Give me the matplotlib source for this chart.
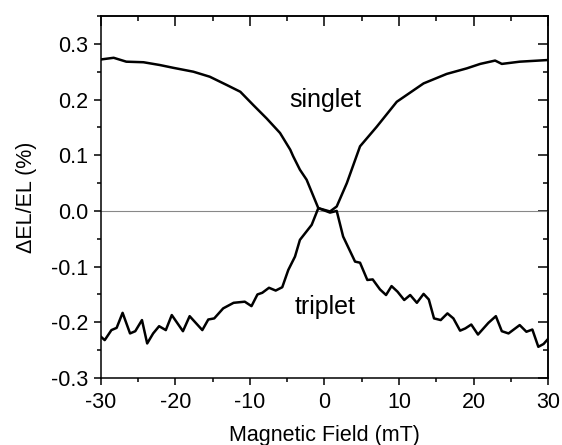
import numpy as np
import matplotlib.pyplot as plt
from matplotlib.ticker import MultipleLocator

plt.rcParams['font.family'] = ['Liberation Sans', 'DejaVu Sans']

# singlet branch: field (mT) and dEL/EL (%)
singlet_x = [-30.0, -28.3, -26.6, -24.3, -22.1, -20.3, -17.6, -15.4, -13.1, -11.3,
             -9.55, -7.76, -5.97, -4.6, -4.2, -3.3, -2.4, -0.83, 0.74, 1.64,
             3.0, 4.77, 7.0, 9.7, 13.3, 16.4, 19.1, 20.9, 22.9, 23.8, 26.2, 30.0]
singlet_y = [0.272, 0.275, 0.268, 0.267, 0.262, 0.257, 0.250, 0.241, 0.226, 0.214,
             0.190, 0.166, 0.140, 0.110, 0.098, 0.074, 0.056, 0.005, -0.001, 0.008,
             0.050, 0.116, 0.151, 0.196, 0.229, 0.246, 0.256, 0.264, 0.270, 0.264, 0.268, 0.271]

# triplet branch
triplet_x = [-30.0, -29.5, -28.6, -27.9, -27.1, -26.1, -25.4, -24.5, -23.8, -23.0,
             -22.2, -21.3, -20.5, -19.0, -18.1, -16.4, -15.6, -14.8, -13.6, -12.2,
             -10.7, -9.8, -9.0, -8.35, -7.45, -6.55, -5.67, -4.86, -3.96, -3.3,
             -1.72, -0.83, 0.74, 1.64, 2.5, 4.1, 4.77, 5.75, 6.47, 7.45,
             8.26, 9.0, 9.8, 10.7, 11.5, 12.4, 13.3, 14.0, 14.7, 15.6,
             16.5, 17.3, 18.2, 18.9, 19.7, 20.6, 22.0, 23.0, 23.8, 24.7,
             26.2, 27.1, 27.9, 28.7, 29.4, 30.0]
triplet_y = [-0.226, -0.232, -0.214, -0.210, -0.183, -0.220, -0.216, -0.196, -0.238, -0.220,
             -0.207, -0.214, -0.187, -0.216, -0.189, -0.214, -0.195, -0.193, -0.175, -0.165,
             -0.163, -0.171, -0.150, -0.147, -0.138, -0.143, -0.137, -0.106, -0.082, -0.052,
             -0.025, 0.005, -0.003, 0.000, -0.046, -0.091, -0.093, -0.124, -0.123, -0.141,
             -0.151, -0.135, -0.145, -0.160, -0.151, -0.165, -0.149, -0.159, -0.193, -0.196,
             -0.184, -0.193, -0.215, -0.211, -0.204, -0.222, -0.201, -0.189, -0.216, -0.220,
             -0.205, -0.217, -0.213, -0.244, -0.239, -0.230]

fig = plt.figure(figsize=(5.62, 4.45), dpi=100)
ax = fig.add_axes([0.1797, 0.1506, 0.7954, 0.8134])

ax.axhline(0, color='#888888', lw=0.8, zorder=1)
ax.plot(singlet_x, singlet_y, color='black', lw=1.8, zorder=3)
ax.plot(triplet_x, triplet_y, color='black', lw=1.8, zorder=3)

ax.text(-4.7, 0.20, 'singlet', fontsize=18, va='center', ha='left')
ax.text(-4.0, -0.172, 'triplet', fontsize=18, va='center', ha='left')

ax.set_xlim(-30, 30)
ax.set_ylim(-0.3, 0.35)
ax.set_xticks([-30, -20, -10, 0, 10, 20, 30])
ax.set_yticks([-0.3, -0.2, -0.1, 0.0, 0.1, 0.2, 0.3])
ax.set_yticklabels(['-0.3', '-0.2', '-0.1', '0.0', '0.1', '0.2', '0.3'])
ax.set_xticklabels(['-30', '-20', '-10', '0', '10', '20', '30'])
ax.xaxis.set_minor_locator(MultipleLocator(5))
ax.yaxis.set_minor_locator(MultipleLocator(0.05))
ax.tick_params(which='major', direction='out', length=5, width=1.1, labelsize=15.5)
ax.tick_params(axis='x', which='major', pad=5)
ax.tick_params(axis='y', which='major', pad=4)
ax.tick_params(which='minor', direction='out', length=3, width=1.1)

# inward ticks on the top and right edges
top = ax.secondary_xaxis('top')
top.set_xticks([-30, -20, -10, 0, 10, 20, 30])
top.xaxis.set_minor_locator(MultipleLocator(5))
top.tick_params(which='major', direction='in', length=7, width=1.1, labeltop=False)
top.tick_params(which='minor', direction='in', length=3.5, width=1.1)
right = ax.secondary_yaxis('right')
right.set_yticks([-0.3, -0.2, -0.1, 0.0, 0.1, 0.2, 0.3])
right.yaxis.set_minor_locator(MultipleLocator(0.05))
right.tick_params(which='major', direction='in', length=7, width=1.1, labelright=False)
right.tick_params(which='minor', direction='in', length=3.5, width=1.1)

for s in list(ax.spines.values()) + [top.spines['top'], right.spines['right']]:
    s.set_linewidth(1.1)

ax.set_xlabel('Magnetic Field (mT)', fontsize=15.5, labelpad=9)
ax.set_ylabel('\u0394EL/EL (%)', fontsize=15.5, labelpad=10)

fig.savefig('out.png', dpi=100)
